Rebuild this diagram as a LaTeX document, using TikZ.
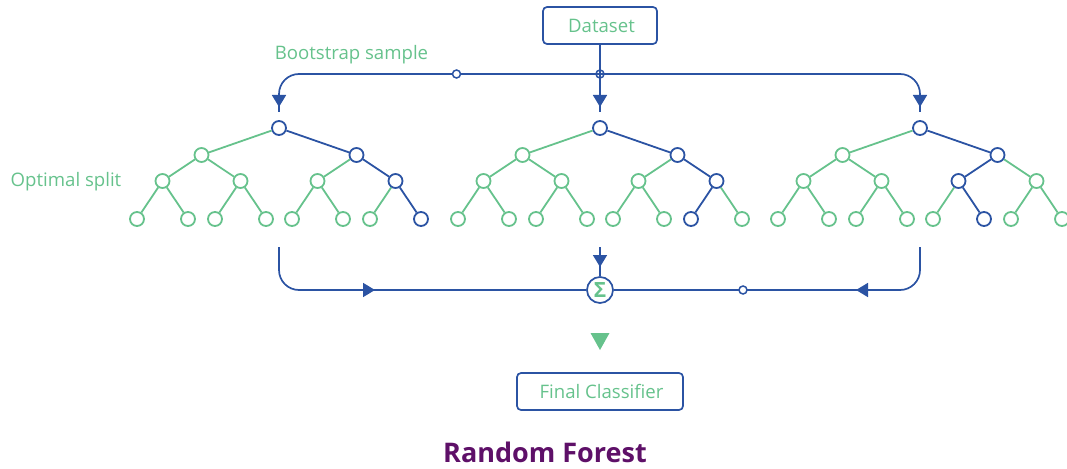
\documentclass[tikz,border=0pt]{standalone}
\usepackage{fontspec}
\setmainfont{Open Sans}
\usetikzlibrary{arrows.meta}
\definecolor{fgreen}{HTML}{66C28C}
\definecolor{fblue}{HTML}{2B53A3}
\definecolor{fpurple}{HTML}{5E1068}
\begin{document}
\begin{tikzpicture}[x=1pt,y=-1pt,
  conn/.style={draw=fblue,line width=1.7pt},
  tipd/.style={-{Triangle[length=12pt,width=14pt]},draw=fblue,fill=fblue,line width=1.7pt},
  tn/.style={circle,minimum size=14pt,inner sep=0pt,line width=1.8pt,fill=white},
  edge/.style={line width=1.8pt},
  box/.style={draw=fblue,line width=1.7pt,rounded corners=4pt,text=fgreen,minimum height=37pt,font=\fontsize{18.6}{22}\selectfont},
  lbl/.style={text=fgreen,font=\fontsize{18.6}{22}\selectfont,inner sep=0pt},
  mk/.style={draw=fblue,line width=1.5pt,fill=white}
]
\useasboundingbox (0,0) rectangle (1067,468);

% trees
\foreach \t/\rx/\bA/\bB in {1/279/7/15, 2/600/7/14, 3/920/6/13} {
  \foreach \k/\dx/\yy in {1/0/128, 2/-77.5/155, 3/77.5/155,
      4/-116.5/181, 5/-38.5/181, 6/38.5/181, 7/116.5/181,
      8/-142/219, 9/-91/219, 10/-64/219, 11/-13/219, 12/13/219, 13/64/219, 14/91/219, 15/142/219} {
    \pgfmathtruncatemacro\isb{(\k==1)||(\k==3)||(\k==\bA)||(\k==\bB)}
    \ifnum\isb=1 \def\nc{fblue}\else\def\nc{fgreen}\fi
    \node[tn,draw=\nc] (t\t n\k) at (\rx+\dx,\yy) {};
  }
  \foreach \k in {2,...,15} {
    \pgfmathtruncatemacro\p{int(\k/2)}
    \pgfmathtruncatemacro\isb{(\k==3)||(\k==\bA)||(\k==\bB)}
    \ifnum\isb=1 \def\ec{fblue}\else\def\ec{fgreen}\fi
    \draw[edge,draw=\ec] (t\t n\p) -- (t\t n\k);
  }
}

% boxes
\node[box,minimum width=114pt] (ds) at (600,25.5) {\raisebox{-1.5pt}{\hspace{3pt}Dataset}};
\node[box,minimum width=166pt] (fc) at (600,391.5) {\raisebox{-1.5pt}{\hspace{3pt}Final Classifier}};

% top distribution
\coordinate (tl) at (279,112);
\coordinate (tm) at (600,112);
\coordinate (tr) at (920,112);
\coordinate (jn) at (600,74);
\draw[conn,rounded corners=20pt] (tl) -- (279,74) -- (920,74) -- (tr);
\draw[conn] (ds.south) -- (tm);
\draw[tipd] (279,95) -- (279,107);
\draw[tipd] (600,95) -- (600,107);
\draw[tipd] (920,95) -- (920,107);
\draw[draw=fblue,line width=1.5pt] (jn) circle[radius=4pt];
\draw[mk] (456.5,74) circle[radius=4pt];

% aggregation
\node[circle,draw=fblue,line width=1.7pt,fill=white,minimum size=26pt,inner sep=0pt,
      text=fgreen,font=\bfseries\fontsize{21}{24}\selectfont] (sig) at (600,290) {Σ};
\draw[conn,rounded corners=20pt] (279,247) -- (279,290) -- (sig.west);
\draw[conn,rounded corners=20pt] (920,247) -- (920,290) -- (sig.east);
\draw[conn] (600,247) -- (sig.north);
\draw[tipd] (362,290) -- (375,290);
\draw[tipd] (869,290) -- (856,290);
\draw[tipd] (600,254) -- (600,267);
\draw[mk] (743,290) circle[radius=4pt];
\fill[fgreen] (590.5,333) -- (609.5,333) -- (600,350) -- cycle;

% labels
\node[lbl] (bs) at (351.5,55) {Bootstrap sample};
\node[lbl] (os) at (66,182) {Optimal split};
\node[text=fpurple,font=\bfseries\fontsize{27}{30}\selectfont] (rf) at (545,452) {Random Forest};
\end{tikzpicture}
\end{document}
